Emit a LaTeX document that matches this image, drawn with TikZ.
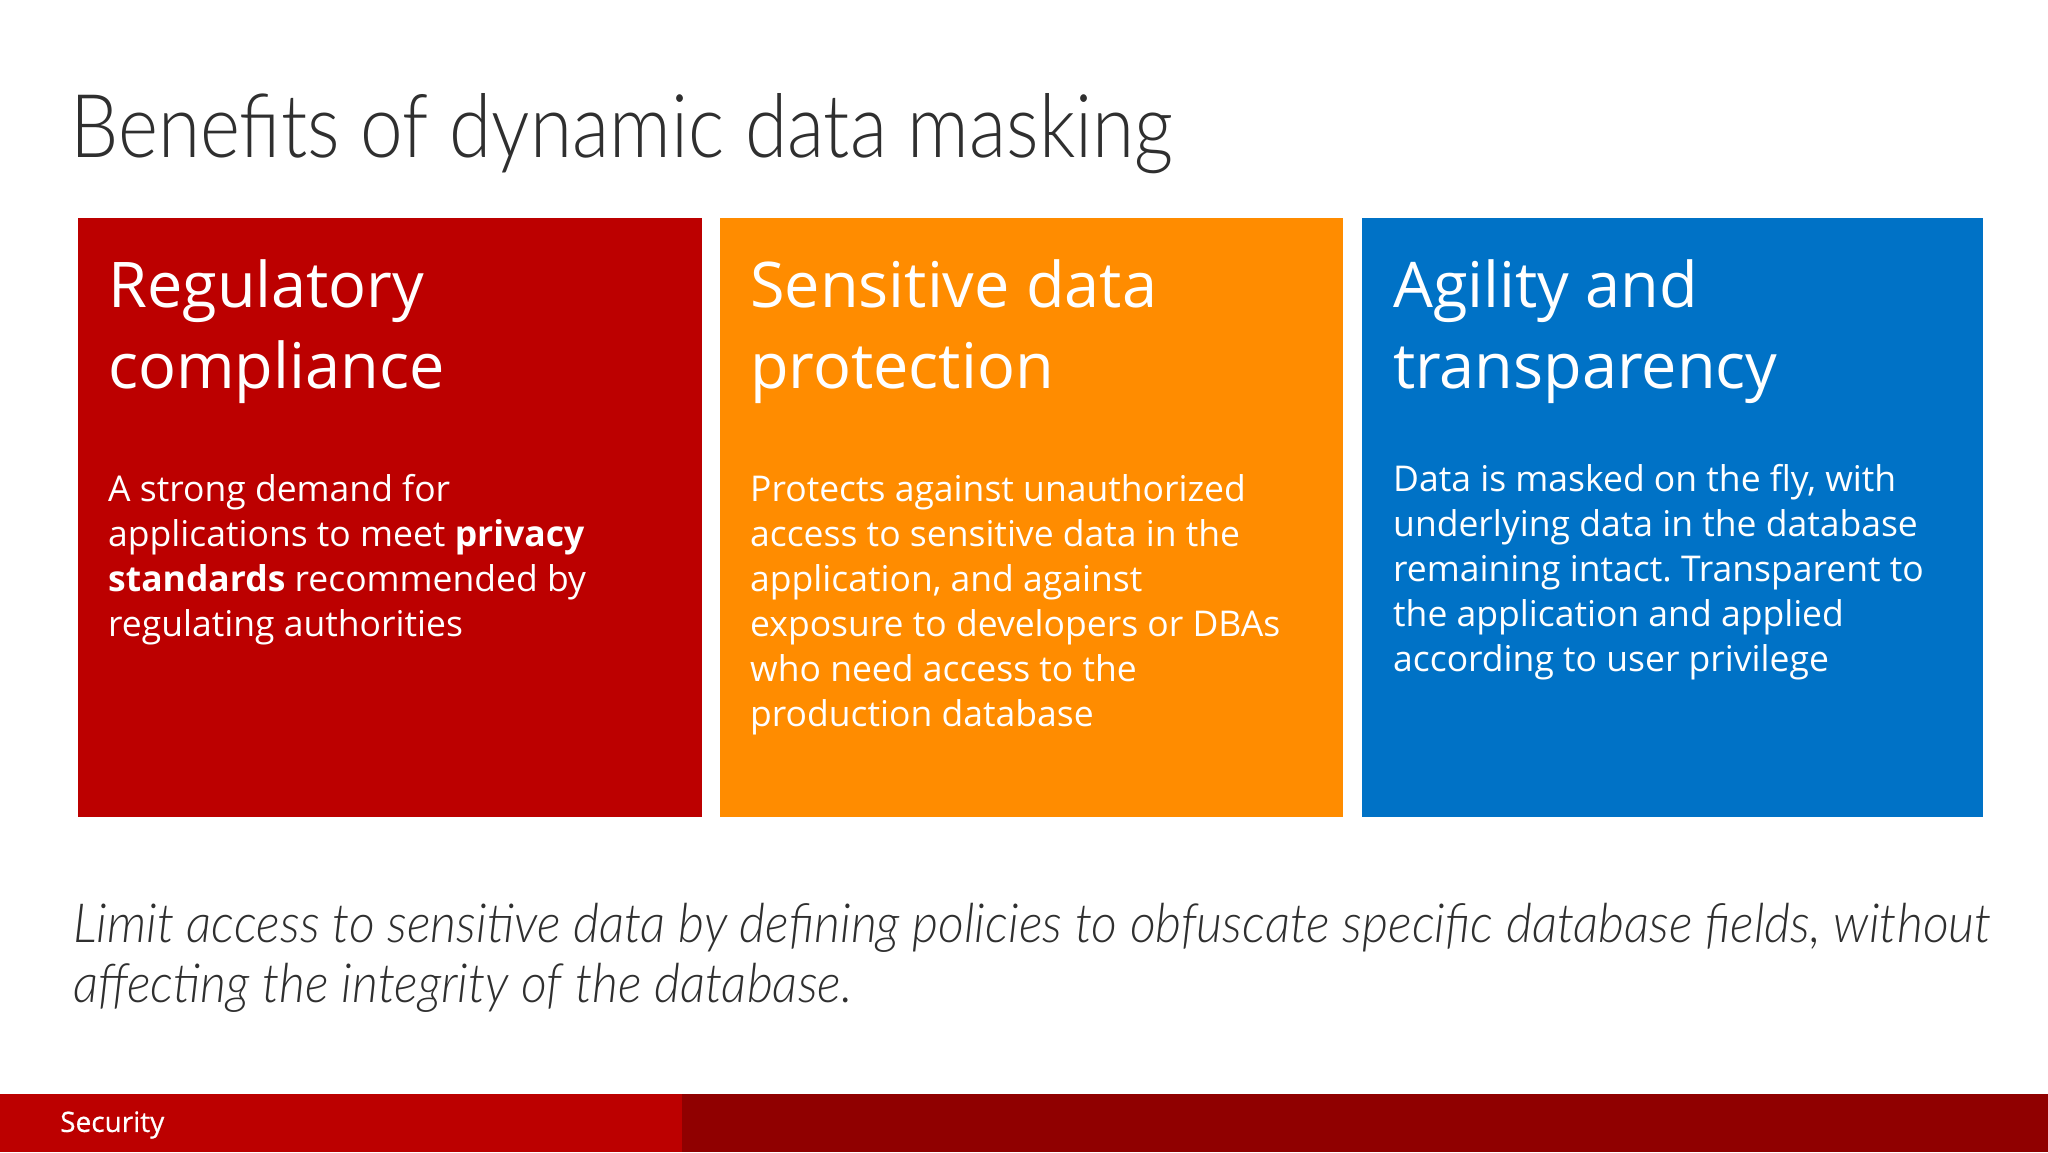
\documentclass[tikz,border=0pt]{standalone}
\usepackage{fontspec}
\setmainfont{Open Sans}
\newfontfamily\lightfont[FakeStretch=0.87]{Lato Light}
\newfontfamily\notefont[FakeStretch=0.93]{Lato Light}
\newfontfamily\barfont[FakeBold=0.6]{Open Sans}
\usetikzlibrary{positioning}
\definecolor{regred}{HTML}{BC0000}
\definecolor{sensorange}{HTML}{FF8C00}
\definecolor{agilblue}{HTML}{0072C6}
\definecolor{bardark}{HTML}{900000}
\definecolor{titlegray}{HTML}{2F2F2F}
\frenchspacing
\tikzset{
  panel/.style={anchor=north west, minimum width=#1, minimum height=599pt, inner sep=0pt},
  heading/.style={anchor=north west, inner sep=0pt, text=white, align=left, font=\fontsize{63}{81}\selectfont},
  bodytext/.style={anchor=north west, inner sep=0pt, text=white, align=left, font=\fontsize{35.5}{45}\selectfont}
}
\begin{document}
\begin{tikzpicture}[x=1pt,y=1pt]
  \useasboundingbox (0,0) rectangle (2048,-1152);
  \node[anchor=north west, inner sep=0pt, text=titlegray, font=\lightfont\fontsize{88}{100}\selectfont] (title) at (70,-93) {Benefits of dynamic data masking};
  % panels
  \node[panel=624pt, fill=regred] (regpanel) at (78,-218) {};
  \node[panel=623pt, fill=sensorange] (senspanel) at (720,-218) {};
  \node[panel=621pt, fill=agilblue] (agilpanel) at (1362,-218) {};
  \node[heading] (reghead) at (108,-259) {Regulatory\\compliance};
  \node[heading] (senshead) at (750,-259) {Sensitive data\\protection};
  \node[heading] (agilhead) at (1393,-259) {Agility and\\transparency};
  \node[bodytext] (regbody) at (108,-474) {A strong demand for\\applications to meet \textbf{privacy}\\\textbf{standards} recommended by\\regulating authorities};
  \node[bodytext] (sensbody) at (750,-474) {Protects against unauthorized\\access to sensitive data in the\\application, and against\\exposure to developers or DBAs\\who need access to the\\production database};
  \node[bodytext] (agilbody) at (1393,-464) {Data is masked on the fly, with\\underlying data in the database\\remaining intact. Transparent to\\the application and applied\\according to user privilege};
  \node[anchor=north west, inner sep=0pt, text=titlegray, align=left, font=\notefont\itshape\fontsize{54}{60}\selectfont] (note) at (73,-903) {Limit access to sensitive data by defining policies to obfuscate specific database fields, without\\affecting the integrity of the database.};
  % footer
  \fill[bardark] (0,-1094) rectangle (2048,-1152);
  \node[anchor=north west, inner sep=0pt, minimum width=682pt, minimum height=58pt, fill=regred] (barleft) at (0,-1094) {};
  \node[anchor=west, inner sep=0pt, text=white, font=\barfont\fontsize{28}{32}\selectfont] (barlabel) at (60,-1125) {Security};
\end{tikzpicture}
\end{document}
